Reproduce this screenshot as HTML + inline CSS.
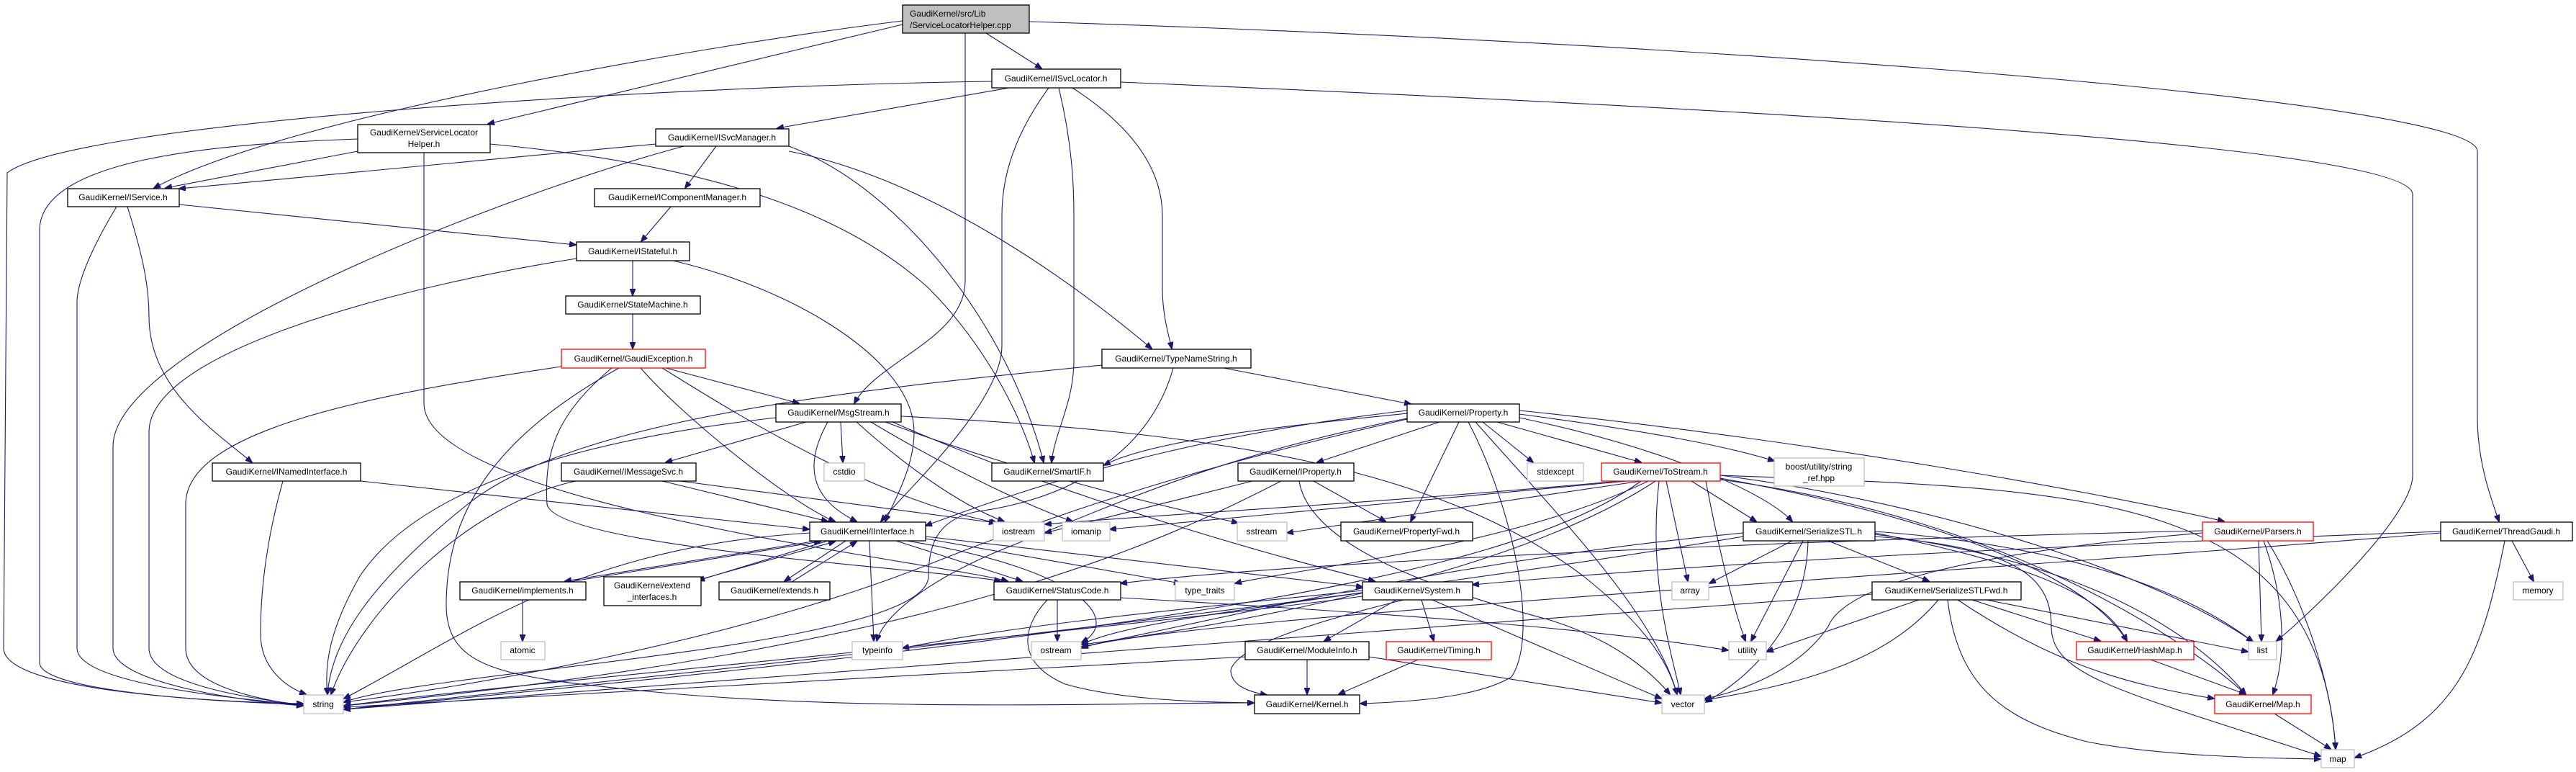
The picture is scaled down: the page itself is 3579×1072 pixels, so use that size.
<!DOCTYPE html>
<html><head><meta charset="utf-8"><style>
html,body{margin:0;padding:0;background:#fff;}
svg{display:block;}
text{font-family:"Liberation Sans",sans-serif;font-size:12px;text-anchor:middle;fill:#000;}
.e{fill:none;stroke:#191970;stroke-width:1.1;marker-end:url(#a);}
.n{fill:#fff;stroke:#000;stroke-width:1.3;}
.g{fill:#fff;stroke:#bfbfbf;stroke-width:1.3;}
.r{fill:#fff;stroke:#ff0000;stroke-width:1.3;}
</style></head><body>
<svg width="3579" height="1072" viewBox="0 0 3579 1072" xmlns="http://www.w3.org/2000/svg">
<defs><marker id="a" markerWidth="10" markerHeight="8" refX="9" refY="4" orient="auto" markerUnits="userSpaceOnUse"><path d="M0,0 L10,4 L0,8 z" fill="#191970" stroke="#191970"/></marker></defs>
<rect width="3579" height="1072" fill="#fff"/>
<g>
<path class="e" d="M1370 46 L1447 95"/>
<path class="e" d="M1254 34 L678 172"/>
<path class="e" d="M1254 29 C1000 60 400 160 214 261"/>
<path class="e" d="M1341 46 L1341 390 C1341 470 1220 500 1187 560"/>
<path class="e" d="M1430 30 C2400 60 3442 140 3442 210 L3442 580 C3442 640 3460 690 3472 724"/>
<path class="e" d="M1378 113 C900 120 100 170 10 240 L5 900 C5 960 300 975 421 977"/>
<path class="e" d="M1402 122 L1080 178"/>
<path class="e" d="M1457 122 C1400 200 1392 260 1392 300 L1392 480 C1392 560 1260 680 1224 724"/>
<path class="e" d="M1471 122 C1490 200 1492 260 1492 300 L1492 500 C1492 560 1465 600 1461 642"/>
<path class="e" d="M1490 122 C1580 180 1615 240 1615 300 L1615 400 C1615 440 1625 470 1628 484"/>
<path class="e" d="M1557 114 C2400 150 3352 200 3352 270 L3352 660 C3352 720 3200 860 3163 890"/>
<path class="e" d="M497 210 L230 261"/>
<path class="e" d="M497 193 C300 200 55 220 55 320 L55 920 C55 960 300 975 421 978"/>
<path class="e" d="M589 212 L589 560 C589 700 1300 780 1400 807"/>
<path class="e" d="M681 200 C1000 230 1180 300 1290 400 C1370 480 1420 580 1437 642"/>
<path class="e" d="M911 200 L249 262"/>
<path class="e" d="M950 203 C700 270 157 480 157 620 L157 900 C157 950 350 975 421 980"/>
<path class="e" d="M995 203 L952 261"/>
<path class="e" d="M1096 203 C1250 260 1400 450 1450 642"/>
<path class="e" d="M1096 210 C1300 250 1500 400 1600 484"/>
<path class="e" d="M932 287 L891 335"/>
<path class="e" d="M249 284 L800 340"/>
<path class="e" d="M162 287 C130 340 107 390 107 420 L107 900 C107 950 330 970 421 979"/>
<path class="e" d="M177 287 C200 360 207 400 207 440 C207 540 300 600 350 642"/>
<path class="e" d="M879 362 L879 410"/>
<path class="e" d="M801 359 C600 390 207 480 207 600 L207 900 C207 950 350 970 421 979"/>
<path class="e" d="M935 362 C1100 400 1270 500 1270 600 C1270 650 1240 700 1230 724"/>
<path class="e" d="M879 436 L879 484"/>
<path class="e" d="M780 509 C500 550 258 600 258 700 L258 900 C258 950 350 970 421 980"/>
<path class="e" d="M925 511 L1110 560"/>
<path class="e" d="M860 511 C700 600 620 700 620 840 C620 930 700 940 900 960 C1200 990 1600 975 1742 976"/>
<path class="e" d="M850 511 C780 570 755 620 760 700 C770 760 1300 790 1390 807"/>
<path class="e" d="M890 511 C950 580 1100 700 1160 724"/>
<path class="e" d="M920 511 C1000 560 1200 690 1385 726"/>
<path class="e" d="M1078 580 C900 600 600 650 500 800 C460 870 450 920 455 964"/>
<path class="e" d="M1120 586 L925 642"/>
<path class="e" d="M1168 586 L1171 642"/>
<path class="e" d="M1150 586 C1120 640 1120 690 1190 724"/>
<path class="e" d="M1190 586 C1250 640 1330 700 1395 724"/>
<path class="e" d="M1210 586 C1300 640 1420 700 1490 724"/>
<path class="e" d="M1230 586 C1400 650 1600 700 1720 726"/>
<path class="e" d="M1252 578 C1700 600 2000 650 2200 800 C2300 880 2320 930 2330 964"/>
<path class="e" d="M1240 586 C1500 700 1800 780 1910 807"/>
<path class="e" d="M501 668 L1124 735"/>
<path class="e" d="M393 668 C370 750 362 820 362 880 C362 930 400 955 425 964"/>
<path class="e" d="M800 668 C650 700 500 850 460 964"/>
<path class="e" d="M920 668 L1150 724"/>
<path class="e" d="M945 668 L1383 726"/>
<path class="e" d="M1135 751 L785 807"/>
<path class="e" d="M790 808 L1140 752"/>
<path class="e" d="M1150 751 L970 806"/>
<path class="e" d="M975 804 L1160 752"/>
<path class="e" d="M1175 751 L1090 807"/>
<path class="e" d="M1100 808 L1190 752"/>
<path class="e" d="M1245 751 L1420 807"/>
<path class="e" d="M1208 751 L1214 890"/>
<path class="e" d="M1286 748 L1640 810"/>
<path class="e" d="M1286 745 L1893 815"/>
<path class="e" d="M1260 751 C1500 790 1560 860 1503 892"/>
<path class="e" d="M1125 740 C800 760 650 880 478 970"/>
<path class="e" d="M726 833 L726 890"/>
<path class="e" d="M1531 507 C1200 540 800 580 650 700 C500 820 460 900 455 964"/>
<path class="e" d="M1700 511 L1960 561"/>
<path class="e" d="M1630 511 C1600 620 1500 690 1360 710 C1300 720 1290 760 1290 800 C1290 900 600 930 478 975"/>
<path class="e" d="M1955 574 C1800 590 1600 610 1534 646"/>
<path class="e" d="M1955 570 C1700 600 1500 650 1286 730"/>
<path class="e" d="M2000 586 L1830 642"/>
<path class="e" d="M2027 586 L1960 724"/>
<path class="e" d="M2060 586 L2130 642"/>
<path class="e" d="M2080 586 L2280 642"/>
<path class="e" d="M2111 575 C2300 600 2400 620 2465 640"/>
<path class="e" d="M2111 580 C2300 620 2450 680 2490 724"/>
<path class="e" d="M2111 570 C2500 610 2900 680 3090 724"/>
<path class="e" d="M2040 586 C2100 700 2140 880 2100 940 C2050 970 1950 975 1890 977"/>
<path class="e" d="M2050 586 C2150 700 2300 850 2330 964"/>
<path class="e" d="M1960 580 C1700 630 1550 700 1400 760 C1300 800 1230 850 1218 890"/>
<path class="e" d="M1955 582 C1700 640 1500 700 1300 780 C1000 900 600 960 478 975"/>
<path class="e" d="M1740 668 L1452 740"/>
<path class="e" d="M1825 668 L1925 724"/>
<path class="e" d="M1780 668 C1600 760 1300 900 478 980"/>
<path class="e" d="M1805 668 C1820 760 2000 820 2150 860 C2250 890 2300 940 2320 964"/>
<path class="e" d="M2250 668 C1900 700 1600 715 1452 728"/>
<path class="e" d="M2260 668 L1542 735"/>
<path class="e" d="M2280 668 L1788 740"/>
<path class="e" d="M2315 668 L2345 807"/>
<path class="e" d="M2305 668 C2290 800 2320 900 2335 964"/>
<path class="e" d="M2290 668 C2100 760 1800 790 1716 810"/>
<path class="e" d="M2280 668 C2100 800 1600 880 478 985"/>
<path class="e" d="M2300 668 C2100 800 1700 870 1503 895"/>
<path class="e" d="M2390 660 C2700 700 3000 800 3130 891"/>
<path class="e" d="M2390 660 C2900 680 3220 680 3245 1040"/>
<path class="e" d="M2390 664 C2700 720 2900 800 2955 890"/>
<path class="e" d="M2390 666 C2800 720 3050 900 3120 964"/>
<path class="e" d="M2350 668 L2440 724"/>
<path class="e" d="M2370 668 C2380 720 2400 820 2425 890"/>
<path class="e" d="M2540 751 L2680 807"/>
<path class="e" d="M2505 751 L2433 890"/>
<path class="e" d="M2512 751 C2510 850 2450 930 2370 975"/>
<path class="e" d="M2605 740 C2800 780 2920 820 2955 890"/>
<path class="e" d="M2605 742 C2900 780 3050 880 3120 964"/>
<path class="e" d="M2605 738 C2900 760 3050 830 3130 891"/>
<path class="e" d="M2605 745 C2800 760 2850 800 2850 870 C2850 940 2950 960 3224 1050"/>
<path class="e" d="M2490 751 L2375 810"/>
<path class="e" d="M2422 740 C2000 780 1700 860 1503 898"/>
<path class="e" d="M2422 745 C1800 850 800 950 478 985"/>
<path class="e" d="M2666 833 L2455 905"/>
<path class="e" d="M2740 833 L2918 890"/>
<path class="e" d="M2760 833 L3123 905"/>
<path class="e" d="M2720 833 C2850 920 2950 950 3076 970"/>
<path class="e" d="M2706 833 C2720 950 2780 1000 2900 1030 C3000 1050 3150 1053 3224 1054"/>
<path class="e" d="M2693 833 C2620 920 2500 950 2369 972"/>
<path class="e" d="M2601 825 C2000 870 800 960 478 985"/>
<path class="e" d="M3138 751 L3142 890"/>
<path class="e" d="M3145 751 C3170 820 3180 900 3158 964"/>
<path class="e" d="M3150 751 C3200 830 3240 950 3245 1040"/>
<path class="e" d="M3060 740 C2700 770 2560 820 2540 870 C2500 930 2420 960 2369 970"/>
<path class="e" d="M3060 737 C2500 750 1800 780 1557 810"/>
<path class="e" d="M3490 751 L3520 807"/>
<path class="e" d="M3480 751 C3450 900 3420 1000 3272 1052"/>
<path class="e" d="M3391 738 C2800 760 2400 780 2046 812"/>
<path class="e" d="M3391 740 C2800 790 1600 860 1503 900"/>
<path class="e" d="M1469 833 L1469 890"/>
<path class="e" d="M1455 833 C1420 870 1410 920 1480 950 C1550 970 1650 975 1742 976"/>
<path class="e" d="M1557 830 C1900 850 2200 870 2401 903"/>
<path class="e" d="M1940 833 L1840 890"/>
<path class="e" d="M1975 833 L1992 890"/>
<path class="e" d="M1950 833 C1800 870 1720 900 1710 930 C1710 950 1730 960 1760 965"/>
<path class="e" d="M1990 833 L2308 970"/>
<path class="e" d="M1893 828 C1500 880 700 950 478 980"/>
<path class="e" d="M1893 823 C1700 850 1550 870 1503 895"/>
<path class="e" d="M1893 820 C1600 850 1400 870 1254 900"/>
<path class="e" d="M1816 916 L1816 964"/>
<path class="e" d="M1730 912 C1200 940 700 970 478 982"/>
<path class="e" d="M1902 912 L2308 976"/>
<path class="e" d="M1970 916 L1860 964"/>
<path class="e" d="M2988 916 L3120 964"/>
<path class="e" d="M3160 991 L3238 1040"/>
</g>
<g>
<rect x="1254" y="7" width="176" height="39" fill="#bfbfbf" stroke="#000" stroke-width="1.3"/>
<text x="1264" y="23" style="text-anchor:start">GaudiKernel/src/Lib</text>
<text x="1264" y="39" style="text-anchor:start">/ServiceLocatorHelper.cpp</text>

<rect class="n" x="1378" y="96" width="179" height="26"/><text x="1467" y="113">GaudiKernel/ISvcLocator.h</text>
<rect class="n" x="497" y="173" width="184" height="39"/><text x="589" y="188">GaudiKernel/ServiceLocator</text><text x="589" y="204">Helper.h</text>
<rect class="n" x="911" y="179" width="185" height="24"/><text x="1003" y="195">GaudiKernel/ISvcManager.h</text>
<rect class="n" x="94" y="262" width="155" height="25"/><text x="171" y="278">GaudiKernel/IService.h</text>
<rect class="n" x="826" y="262" width="230" height="25"/><text x="941" y="278">GaudiKernel/IComponentManager.h</text>
<rect class="n" x="801" y="336" width="157" height="26"/><text x="879" y="353">GaudiKernel/IStateful.h</text>
<rect class="n" x="786" y="411" width="187" height="25"/><text x="879" y="427">GaudiKernel/StateMachine.h</text>
<rect class="r" x="780" y="485" width="200" height="26"/><text x="880" y="502">GaudiKernel/GaudiException.h</text>
<rect class="n" x="1531" y="485" width="207" height="26"/><text x="1634" y="502">GaudiKernel/TypeNameString.h</text>
<rect class="n" x="1078" y="561" width="174" height="25"/><text x="1165" y="577">GaudiKernel/MsgStream.h</text>
<rect class="n" x="1955" y="561" width="156" height="25"/><text x="2033" y="577">GaudiKernel/Property.h</text>
<rect class="n" x="295" y="643" width="206" height="25"/><text x="398" y="659">GaudiKernel/INamedInterface.h</text>
<rect class="n" x="780" y="643" width="187" height="25"/><text x="873" y="659">GaudiKernel/IMessageSvc.h</text>
<rect class="g" x="1145" y="643" width="56" height="25"/><text x="1173" y="659">cstdio</text>
<rect class="n" x="1378" y="643" width="155" height="25"/><text x="1455" y="659">GaudiKernel/SmartIF.h</text>
<rect class="n" x="1720" y="643" width="161" height="25"/><text x="1800" y="659">GaudiKernel/IProperty.h</text>
<rect class="g" x="2122" y="643" width="78" height="25"/><text x="2161" y="659">stdexcept</text>
<rect class="r" x="2225" y="643" width="165" height="25"/><text x="2307" y="659">GaudiKernel/ToStream.h</text>
<rect class="g" x="2465" y="636" width="125" height="39"/><text x="2527" y="652">boost/utility/string</text><text x="2527" y="668">_ref.hpp</text>
<rect class="n" x="1125" y="725" width="161" height="26"/><text x="1205" y="742">GaudiKernel/IInterface.h</text>
<rect class="g" x="1380" y="725" width="71" height="26"/><text x="1415" y="742">iostream</text>
<rect class="g" x="1476" y="725" width="66" height="26"/><text x="1509" y="742">iomanip</text>
<rect class="g" x="1719" y="725" width="69" height="26"/><text x="1753" y="742">sstream</text>
<rect class="n" x="1863" y="725" width="183" height="26"/><text x="1954" y="742">GaudiKernel/PropertyFwd.h</text>
<rect class="n" x="2422" y="725" width="183" height="26"/><text x="2513" y="742">GaudiKernel/SerializeSTL.h</text>
<rect class="r" x="3060" y="725" width="154" height="26"/><text x="3137" y="742">GaudiKernel/Parsers.h</text>
<rect class="n" x="3391" y="725" width="183" height="26"/><text x="3482" y="742">GaudiKernel/ThreadGaudi.h</text>
<rect class="n" x="639" y="808" width="175" height="25"/><text x="726" y="824">GaudiKernel/implements.h</text>
<rect class="n" x="839" y="801" width="135" height="40"/><text x="906" y="817">GaudiKernel/extend</text><text x="906" y="833">_interfaces.h</text>
<rect class="n" x="999" y="808" width="154" height="25"/><text x="1076" y="824">GaudiKernel/extends.h</text>
<rect class="n" x="1381" y="808" width="176" height="25"/><text x="1469" y="824">GaudiKernel/StatusCode.h</text>
<rect class="g" x="1633" y="808" width="82" height="25"/><text x="1674" y="824">type_traits</text>
<rect class="n" x="1893" y="808" width="153" height="25"/><text x="1969" y="824">GaudiKernel/System.h</text>
<rect class="g" x="2323" y="808" width="51" height="25"/><text x="2348" y="824">array</text>
<rect class="n" x="2601" y="808" width="207" height="25"/><text x="2704" y="824">GaudiKernel/SerializeSTLFwd.h</text>
<rect class="g" x="3492" y="808" width="69" height="25"/><text x="3526" y="824">memory</text>
<rect class="g" x="696" y="891" width="61" height="25"/><text x="726" y="907">atomic</text>
<rect class="g" x="1184" y="891" width="70" height="25"/><text x="1219" y="907">typeinfo</text>
<rect class="g" x="1433" y="891" width="69" height="25"/><text x="1467" y="907">ostream</text>
<rect class="n" x="1730" y="891" width="172" height="25"/><text x="1816" y="907">GaudiKernel/ModuleInfo.h</text>
<rect class="r" x="1926" y="891" width="146" height="25"/><text x="1999" y="907">GaudiKernel/Timing.h</text>
<rect class="g" x="2402" y="891" width="52" height="25"/><text x="2428" y="907">utility</text>
<rect class="r" x="2885" y="891" width="163" height="25"/><text x="2966" y="907">GaudiKernel/HashMap.h</text>
<rect class="g" x="3124" y="891" width="39" height="25"/><text x="3143" y="907">list</text>
<rect class="g" x="422" y="965" width="55" height="26"/><text x="449" y="982">string</text>
<rect class="n" x="1743" y="965" width="146" height="26"/><text x="1816" y="982">GaudiKernel/Kernel.h</text>
<rect class="g" x="2309" y="965" width="59" height="26"/><text x="2338" y="982">vector</text>
<rect class="r" x="3077" y="965" width="134" height="26"/><text x="3144" y="982">GaudiKernel/Map.h</text>
<rect class="g" x="3225" y="1041" width="46" height="25"/><text x="3248" y="1058">map</text>
</g>
</svg>
</body></html>
